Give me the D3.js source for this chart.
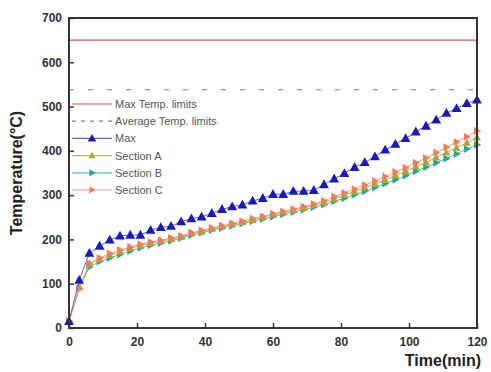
<!DOCTYPE html>
<html>
<head>
<meta charset="utf-8">
<script src="https://cdn.jsdelivr.net/npm/d3@7"></script>
<style>
  body { margin: 0; background: #fff; }
  text { font-family: Arial, "Liberation Sans", sans-serif; }
</style>
</head>
<body>
<figure id="chart" style="margin:0"></figure>
<script>
// time in minutes, every 3 min
const times = d3.range(0, 121, 3);
const maxTemp = [15, 108, 169, 185, 199, 208, 210, 210, 221, 227, 230, 240, 247, 251, 259, 268, 274, 278, 287, 293, 302,
  302, 309, 309, 311, 324, 337, 349, 363, 374, 387, 402, 415, 428, 443, 456, 470, 485, 496, 507, 515];
const sectionA = [15, 92, 145, 155, 164, 172, 180, 186, 191, 196, 201, 206, 213, 218, 224, 229, 234, 239, 244, 250, 256,
  261, 266, 271, 277, 284, 292, 300, 308, 317, 325, 334, 344, 354, 364, 374, 385, 396, 407, 418, 430];
const sectionB = [15, 90, 138, 150, 158, 166, 174, 181, 187, 192, 197, 203, 210, 215, 221, 226, 231, 236, 241, 246, 252,
  257, 262, 267, 273, 279, 286, 293, 301, 309, 317, 326, 335, 344, 354, 363, 373, 383, 393, 404, 414];
const sectionC = [15, 88, 145, 158, 168, 176, 183, 189, 194, 198, 203, 208, 215, 220, 226, 231, 236, 241, 247, 252, 258,
  263, 268, 274, 280, 287, 297, 305, 314, 323, 332, 342, 352, 362, 373, 384, 396, 408, 420, 432, 445];
const maxLimit = 650;
const avgLimit = 538;
const xTicks = [0, 20, 40, 60, 80, 100, 120];
const yTicks = [0, 100, 200, 300, 400, 500, 600, 700];

const width = 491, height = 372;
const margin = { left: 69, right: 14, top: 18, bottom: 44 };

const svg = d3.select("figure#chart")
  .append("svg")
  .attr("width", width)
  .attr("height", height);

const x = d3.scaleLinear().domain([0, 120]).range([margin.left, width - margin.right]);
const y = d3.scaleLinear().domain([0, 700]).range([height - margin.bottom, margin.top]);

// limit lines
svg.append("line")
  .attr("x1", x(0)).attr("x2", x(120))
  .attr("y1", y(maxLimit)).attr("y2", y(maxLimit))
  .attr("stroke", "#e8504a").attr("stroke-width", 1.2);
svg.append("line")
  .attr("x1", x(0)).attr("x2", x(120))
  .attr("y1", y(avgLimit)).attr("y2", y(avgLimit))
  .attr("stroke", "#6a78c8").attr("stroke-width", 1.2)
  .attr("stroke-dasharray", "5,14");

const series = [
  { name: "Section B", values: sectionB, color: "#2fa39a", line: "#5ab8b0", shape: "right", size: 4.2 },
  { name: "Section A", values: sectionA, color: "#a8a830", line: "#b8b860", shape: "up", size: 4.2 },
  { name: "Section C", values: sectionC, color: "#f07c5c", line: "#f29a80", shape: "right", size: 4.2 },
  { name: "Max", values: maxTemp, color: "#1a1ab8", line: "#5a6ad8", shape: "up", size: 5.2 }
];

function marker(shape, s) {
  if (shape === "up") return `M0,${-s}L${s * 0.95},${s * 0.7}L${-s * 0.95},${s * 0.7}Z`;
  return `M${s},0L${-s * 0.7},${s * 0.95}L${-s * 0.7},${-s * 0.95}Z`;
}

const line = d3.line().x((d, i) => x(times[i])).y(d => y(d));

series.forEach(s => {
  svg.append("path")
    .attr("d", line(s.values))
    .attr("fill", "none")
    .attr("stroke", s.line)
    .attr("stroke-width", 1);
  svg.append("g").selectAll("path")
    .data(s.values)
    .enter()
    .append("path")
    .attr("transform", (d, i) => "translate(" + x(times[i]) + "," + y(d) + ")")
    .attr("d", marker(s.shape, s.size))
    .attr("fill", s.color);
});

// frame
svg.append("rect")
  .attr("x", x(0)).attr("y", y(700))
  .attr("width", x(120) - x(0)).attr("height", y(0) - y(700))
  .attr("fill", "none").attr("stroke", "#333").attr("stroke-width", 2);

// axes with inward ticks
const xAxis = svg.append("g")
  .attr("transform", "translate(0," + y(0) + ")")
  .call(d3.axisBottom(x).tickValues(xTicks).tickSizeInner(-5).tickSizeOuter(0).tickPadding(9));
const yAxis = svg.append("g")
  .attr("transform", "translate(" + x(0) + ",0)")
  .call(d3.axisLeft(y).tickValues(yTicks).tickSizeInner(-5).tickSizeOuter(0).tickPadding(7));
[xAxis, yAxis].forEach(a => {
  a.select(".domain").remove();
  a.selectAll("line").attr("stroke", "#333").attr("stroke-width", 1.5);
  a.selectAll("text")
    .attr("fill", "#333")
    .style("font-size", "12px")
    .style("font-weight", "bold");
});

// axis titles
svg.append("text")
  .attr("transform", "translate(22," + (y(350)) + ") rotate(-90)")
  .attr("text-anchor", "middle")
  .attr("fill", "#222")
  .style("font-size", "16px")
  .style("font-weight", "bold")
  .text("Temperature(°C)");
svg.append("text")
  .attr("x", x(120) + 4)
  .attr("y", 366)
  .attr("text-anchor", "end")
  .attr("fill", "#222")
  .style("font-size", "16px")
  .style("font-weight", "bold")
  .text("Time(min)");

// legend
const legendItems = [
  { name: "Max Temp. limits", color: "#e8504a", dash: null, shape: null },
  { name: "Average Temp. limits", color: "#6a78c8", dash: "4,5", shape: null },
  { name: "Max", color: "#1a1ab8", line: "#5a6ad8", shape: "up", size: 4.5 },
  { name: "Section A", color: "#a8a830", line: "#b8b860", shape: "up", size: 3.8 },
  { name: "Section B", color: "#2fa39a", line: "#5ab8b0", shape: "right", size: 3.8 },
  { name: "Section C", color: "#f07c5c", line: "#f29a80", shape: "right", size: 3.8 }
];
const legend = svg.append("g");
legendItems.forEach((d, i) => {
  const ly = 104 + i * 17.2;
  legend.append("line")
    .attr("x1", 72).attr("x2", 112)
    .attr("y1", ly).attr("y2", ly)
    .attr("stroke", d.line || d.color)
    .attr("stroke-width", 1.2)
    .attr("stroke-dasharray", d.dash);
  if (d.shape) {
    legend.append("path")
      .attr("transform", "translate(92," + ly + ")")
      .attr("d", marker(d.shape, d.size))
      .attr("fill", d.color);
  }
  legend.append("text")
    .attr("x", 115).attr("y", ly + 4)
    .attr("fill", "#555")
    .style("font-size", "11px")
    .text(d.name);
});
</script>
</body>
</html>
